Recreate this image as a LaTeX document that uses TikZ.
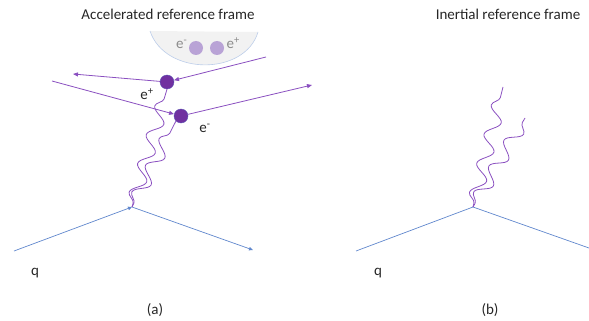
\documentclass[tikz,border=0pt]{standalone}
\usepackage{fontspec}
\setmainfont{Carlito}
\usetikzlibrary{arrows.meta,positioning,calc,decorations.pathmorphing}
\definecolor{pptpurple}{HTML}{7030A0}
\definecolor{linepurple}{HTML}{8A4FC0}
\definecolor{pptblue}{HTML}{4472C4}
\definecolor{lilac}{HTML}{B9A3D6}

\begin{document}
\begin{tikzpicture}[
    x=1pt, y=-1pt,
    dot/.style={circle, draw=pptblue!50!pptpurple, fill=pptpurple, minimum size=14pt, inner sep=0pt},
    ghost/.style={circle, fill=lilac, minimum size=14pt, inner sep=0pt},
    track/.style={linepurple, line width=0.8pt, -{Triangle[length=5pt,width=4pt]}},
    quark/.style={pptblue!85, line width=0.7pt},
    photon/.style={linepurple, line width=0.8pt, decorate,
        decoration={snake, segment length=30pt, amplitude=7pt, pre length=4pt, post length=3pt}},
    lab/.style={font=\fontsize{15}{17}\selectfont, text=black!85}
]
    \useasboundingbox (0,0) rectangle (589,321);

    % Titles
    \node[lab] (ttla) at (168,14) {Accelerated reference frame};
    \node[lab] (ttlb) at (508,14) {Inertial reference frame};

    % Vacuum pair (bowl)
    \fill[black!5] (150,31) .. controls (165,76) and (245,76) .. (258,32) -- cycle;
    \draw[pptblue!35, line width=0.6pt] (150,31) .. controls (165,76) and (245,76) .. (258,32);
    \node[ghost] (gneg) at (196,48) {};
    \node[ghost] (gpos) at (217,48) {};
    \node[lab, text=black!45, left=-2pt of gneg, yshift=4pt] (lgneg) {e\textsuperscript{-}};
    \node[lab, text=black!45, right=-1pt of gpos, yshift=5pt] (lgpos) {e\textsuperscript{+}};

    % Real pair
    \node[dot] (epos) at (167,82) {};
    \node[dot] (eneg) at (181,116) {};
    \node[lab] (lpos) at (147,94) {e\textsuperscript{+}};
    \node[lab] (lneg) at (205,128) {e\textsuperscript{-}};

    \coordinate (pin) at (266,57);
    \coordinate (pout) at (73,74);
    \coordinate (nin) at (52,81);
    \coordinate (nout) at (312,85);
    \draw[track] (pin) -- (epos);
    \draw[track] (epos) -- (pout);
    \draw[track] (nin) -- (eneg);
    \draw[track] (eneg) -- (nout);

    % Charge, panel (a)
    \coordinate (va) at (132,207);
    \coordinate (qain) at (14,251);
    \coordinate (qaout) at (253,250);
    \draw[quark, -{Triangle[length=4pt,width=3.5pt]}] (qain) -- (va);
    \draw[quark, -{Triangle[length=4pt,width=3.5pt]}] (va) -- (qaout);
    \draw[photon] (va) -- (epos.south);
    \draw[photon] (va) -- (eneg.south west);

    % Charge, panel (b)
    \coordinate (vb) at (473,207);
    \coordinate (qbin) at (356,251);
    \coordinate (qbout) at (589,248);
    \coordinate (ga) at (503,87);
    \coordinate (gb) at (525,118);
    \draw[quark] (qbin) -- (vb);
    \draw[quark] (vb) -- (qbout);
    \draw[photon] (vb) -- (ga);
    \draw[photon] (vb) -- (gb);

    % Labels
    \node[lab] (qa) at (35,273) {q};
    \node[lab] (qb) at (378,273) {q};
    \node[lab] (capa) at (155,310) {(a)};
    \node[lab] (capb) at (490,310) {(b)};
\end{tikzpicture}
\end{document}
